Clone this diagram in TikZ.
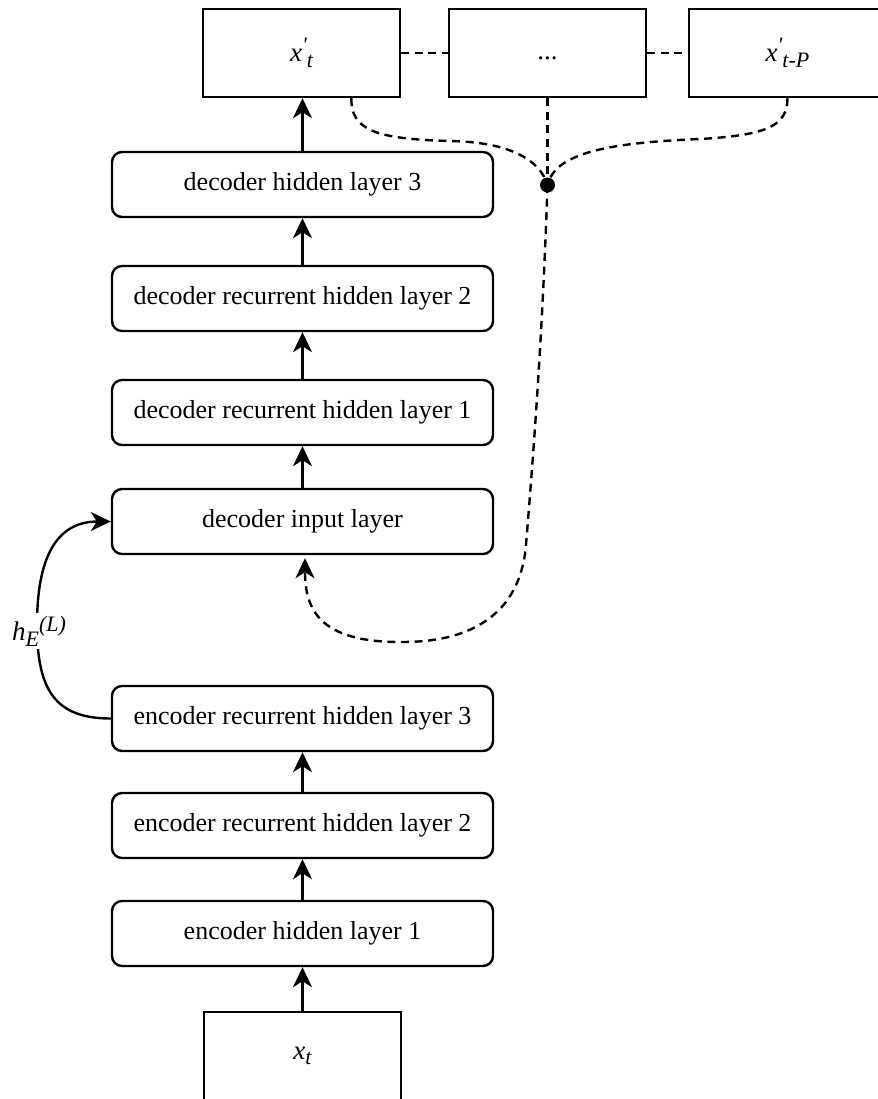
\documentclass[tikz,border=0pt]{standalone}
\usepackage{fontspec}
\setmainfont{Liberation Serif}
\usetikzlibrary{arrows.meta,calc}
\newcommand\mysub[1]{\raisebox{-0.45ex}{\fontsize{11}{12}\selectfont #1}}
\newcommand\mysup[1]{\raisebox{0.75ex}{\fontsize{11}{12}\selectfont #1}}
\begin{document}
\begin{tikzpicture}[x=0.5pt,y=-0.5pt, line width=1.2pt,
  layer/.style={draw, rounded corners=5pt, minimum width=190.5pt, minimum height=32.5pt, inner sep=0pt, font=\fontsize{13}{15}\selectfont},
  outbox/.style={draw, minimum width=98.5pt, minimum height=44pt, inner sep=0pt, font=\fontsize{13.5}{15}\selectfont\itshape},
  arr/.style={-{Stealth[length=10pt,width=9.5pt,inset=3pt]}},
  dsh/.style={dash pattern=on 4pt off 2.8pt}]
\useasboundingbox (0,0) rectangle (878,1099);
\clip (0,0) rectangle (878,1099);
% output boxes
\node[outbox] (o1) at (301.5,53) {x\mysup{\textquotesingle}\mysub{t}};
\node[outbox] (o2) at (547.5,53) {\upshape ...\strut};
\node[outbox] (o3) at (787.5,53) {x\mysup{\textquotesingle}\mysub{t-P}};
% layers
\node[layer] (dh3) at (302.5,184.5) {decoder hidden layer 3};
\node[layer] (drh2) at (302.5,298.5) {decoder recurrent hidden layer 2};
\node[layer] (drh1) at (302.5,412.5) {decoder recurrent hidden layer 1};
\node[layer] (din) at (302.5,521.5) {decoder input layer};
\node[layer] (erh3) at (302.5,718.5) {encoder recurrent hidden layer 3};
\node[layer] (erh2) at (302.5,825.5) {encoder recurrent hidden layer 2};
\node[layer] (eh1) at (302.5,933.5) {encoder hidden layer 1};
\node[outbox] (xt) at (302.5,1056) {x\mysub{t}};
% solid arrows
\draw[arr] (xt.north) -- (eh1.south);
\draw[arr] (eh1.north) -- (erh2.south);
\draw[arr] (erh2.north) -- (erh3.south);
\draw[arr] (din.north) -- (drh1.south);
\draw[arr] (drh1.north) -- (drh2.south);
\draw[arr] (drh2.north) -- (dh3.south);
\draw[arr] (dh3.north) -- (dh3.north |- o1.south);
% h_E connector
\draw[arr] (erh3.west) .. controls (55,718.5) and (37,690) .. (37,625) .. controls (37,560) and (55,521.5) .. (din.west);
\node[fill=white, inner sep=1.5pt, font=\fontsize{13.5}{15}\selectfont\itshape] (hlab) at (39,631) {h\mysub{E}\mysup{(L)}};
% dashed links
\draw[dsh] (o1.east) -- (o2.west);
\draw[dsh] (o2.east) -- (o3.west);
\node[circle, fill, inner sep=0pt, minimum size=7.5pt] (dot) at (547.5,185) {};
\draw[dsh] ($(o1.south)!0.5!(o1.south east)$) .. controls (351,130) and (375,139) .. (450,141) .. controls (510,142) and (540,160) .. (dot.center);
\draw[dsh] (o2.south) -- (dot.center);
\draw[dsh] (o3.south) .. controls (787,125) and (770,135) .. (700,139) .. controls (600,143) and (555,155) .. (dot.center);
\draw[dsh, arr] (dot.center) .. controls (542,350) and (532,470) .. (526,545) .. controls (518,640) and (430,642) .. (400,642) .. controls (320,642) and (305,610) .. ([xshift=1.25pt,yshift=-1.5pt]din.south);
\end{tikzpicture}
\end{document}
